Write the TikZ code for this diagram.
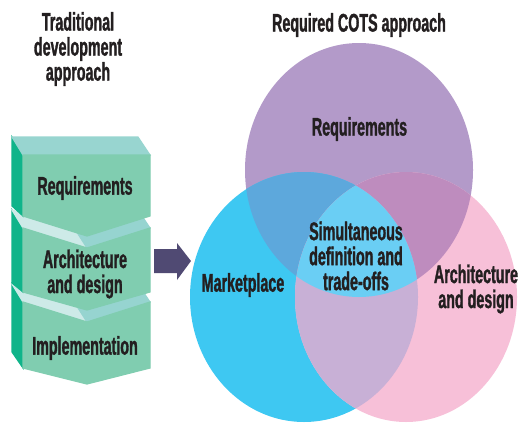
\documentclass[tikz,border=0pt]{standalone}
\usepackage{fontspec}
\newfontfamily\condfont[FakeStretch=0.56, FakeBold=1.2]{Liberation Sans Bold}
\definecolor{txt}{RGB}{35,31,32}
\definecolor{purp}{RGB}{179,154,201}
\definecolor{cyanc}{RGB}{62,200,242}
\definecolor{pinkc}{RGB}{247,192,216}
\definecolor{pcc}{RGB}{93,168,220}
\definecolor{pkc}{RGB}{190,140,190}
\definecolor{ckc}{RGB}{200,176,214}
\definecolor{allc}{RGB}{106,206,244}
\definecolor{frontc}{RGB}{128,205,176}
\definecolor{sidec}{RGB}{16,180,138}
\definecolor{topc}{RGB}{152,213,208}
\definecolor{lightc}{RGB}{205,234,232}
\definecolor{tealc}{RGB}{150,212,208}
\definecolor{arrowc}{RGB}{80,74,115}
\begin{document}
\begin{tikzpicture}[x=1pt,y=-1pt,
  lab/.style={font=\condfont\fontsize{25.5}{25}\selectfont, text=txt, align=center, inner sep=0pt},
  face/.style={draw=white, line width=1.2pt, line join=miter}]
\useasboundingbox (0,0) rectangle (518,423);
% Venn circles
\fill[purp] (359,170) ellipse [x radius=114pt, y radius=127pt];
\fill[cyanc] (304,297) ellipse [x radius=114pt, y radius=125pt];
\fill[pinkc] (406,297) ellipse [x radius=111pt, y radius=125pt];
\begin{scope}
  \clip (359,170) ellipse [x radius=114pt, y radius=127pt];
  \fill[pcc] (304,297) ellipse [x radius=114pt, y radius=125pt];
  \fill[pkc] (406,297) ellipse [x radius=111pt, y radius=125pt];
\end{scope}
\begin{scope}
  \clip (304,297) ellipse [x radius=114pt, y radius=125pt];
  \fill[ckc] (406,297) ellipse [x radius=111pt, y radius=125pt];
\end{scope}
\begin{scope}
  \clip (359,170) ellipse [x radius=114pt, y radius=127pt];
  \clip (304,297) ellipse [x radius=114pt, y radius=125pt];
  \fill[allc] (406,297) ellipse [x radius=111pt, y radius=125pt];
\end{scope}
% Box 3
\fill[face, sidec] (12,284) -- (23,302) -- (23,368) -- (12,352) -- cycle;
\fill[face, lightc] (12,284) -- (75.5,304) -- (87,322) -- (23,302) -- cycle;
\fill[face, tealc] (75.5,304) -- (138,284) -- (150,302) -- (87,322) -- cycle;
\fill[face, frontc] (23,302) -- (87,322) -- (150,302) -- (150,368) -- (87,384) -- (23,368) -- cycle;
% Box 2
\fill[face, sidec] (12,210) -- (23,228) -- (23,292) -- (12,283) -- cycle;
\fill[face, lightc] (12,210) -- (75.5,230) -- (87,248) -- (23,228) -- cycle;
\fill[face, tealc] (75.5,230) -- (138,210) -- (150,228) -- (87,248) -- cycle;
\fill[face, frontc] (23,228) -- (87,248) -- (150,228) -- (150,292) -- (87,310) -- (23,292) -- cycle;
% Box 1
\fill[face, sidec] (12,137) -- (23,155) -- (23,216) -- (12,206) -- cycle;
\fill[face, topc] (12,137) -- (138,137) -- (150,155) -- (23,155) -- cycle;
\fill[face, frontc] (23,155) -- (150,155) -- (150,216) -- (87,236) -- (23,216) -- cycle;
% block arrow
\fill[arrowc] (154,249) -- (177,249) -- (177,243) -- (191,261) -- (177,280) -- (177,273) -- (154,273) -- cycle;
% labels
\node[lab] (t1) at (78,49) {Traditional\\development\\approach};
\node[lab] (t2) at (359,25) {Required COTS approach};
\node[lab] (b1) at (85,188) {Requirements};
\node[lab] (b2) at (85,274) {Architecture\\and design};
\node[lab] (b3) at (85,348) {Implementation};
\node[lab] (c1) at (359.5,129) {Requirements};
\node[lab] (c2) at (356,256) {Simultaneous\\definition and\\trade-offs};
\node[lab] (c3) at (243,285) {Marketplace};
\node[lab] (c4) at (476,289) {Architecture\\and design};
\end{tikzpicture}
\end{document}
